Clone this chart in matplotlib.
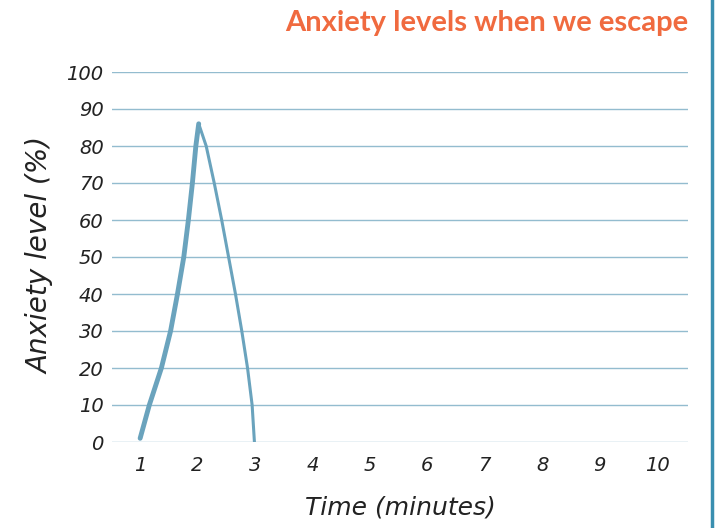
import matplotlib
matplotlib.use("Agg")
import matplotlib.pyplot as plt
from matplotlib.lines import Line2D

# Data
time_min = [1.0, 1.16, 1.37, 1.53, 1.65, 1.76, 1.84, 1.91, 1.97, 2.02,
            2.15, 2.29, 2.42, 2.54, 2.66, 2.77, 2.87, 2.95, 2.99]
anxiety = [1, 10, 20, 30, 40, 50, 60, 70, 80, 86,
           80, 70, 60, 50, 40, 30, 20, 10, 0]
x_ticks = [1, 2, 3, 4, 5, 6, 7, 8, 9, 10]
y_ticks = [0, 10, 20, 30, 40, 50, 60, 70, 80, 90, 100]

title = "Anxiety levels when we escape"
xlabel = "Time (minutes)"
ylabel = "Anxiety level (%)"

fig = plt.figure(figsize=(7.22, 5.28), dpi=100)
ax = fig.add_axes([112/722, 1-442/528, (688-112)/722, (442-72)/528])

ax.set_xlim(0.51, 10.54)
ax.set_ylim(0, 100)
for y in y_ticks:
    ax.axhline(y, color="#93bccf", lw=1.0, zorder=1)

rise_n = 10
ax.plot(time_min[:rise_n], anxiety[:rise_n], color="#6aa3bd", lw=3.5,
        solid_capstyle="round", solid_joinstyle="round", zorder=3)
ax.plot(time_min[rise_n-1:], anxiety[rise_n-1:], color="#6aa3bd", lw=2.2,
        solid_capstyle="round", solid_joinstyle="round", zorder=3)

for s in ax.spines.values():
    s.set_visible(False)
ax.set_xticks(x_ticks)
ax.set_yticks(y_ticks)
ax.tick_params(length=0, labelsize=14, colors="#222222")
ax.tick_params(axis="x", pad=10)
ax.tick_params(axis="y", pad=6)
for lab in ax.get_xticklabels() + ax.get_yticklabels():
    lab.set_fontfamily("DejaVu Sans")
    lab.set_fontweight("light")
    lab.set_fontstyle("italic")

fig.text(40/722, 1-255/528, ylabel, rotation=90, ha="center", va="center",
         fontsize=20, style="italic", color="#222222")
fig.text(400/722, 1-508/528, xlabel, ha="center", va="center",
         fontsize=18, style="italic", color="#222222")
fig.text(688/722, 1-23/528, title, ha="right", va="center",
         fontsize=21, fontweight="bold", family="Lato", color="#f06a3f")

fig.add_artist(Line2D([712/722, 712/722], [0, 1], color="#3a8fb0", lw=2.5,
                      transform=fig.transFigure))

fig.savefig("out.png", dpi=100)
